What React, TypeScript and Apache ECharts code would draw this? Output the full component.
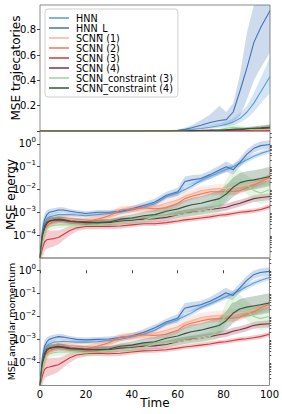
import React, { useEffect, useRef } from "react";
import * as echarts from "echarts";

// ---------------- data ----------------
const TIME = [0, 1, 2, 3, 4, 6, 8, 10, 13, 16, 20, 25, 30, 35, 40, 45, 50, 55, 60, 63, 66, 70, 74, 78, 81, 84, 87, 90, 93, 96, 100];
const NAMES = ["HNN", "HNN_L", "SCNN (1)", "SCNN (2)", "SCNN (3)", "SCNN (4)", "SCNN_constraint (3)", "SCNN_constraint (4)"];
const X_TICKS = [0, 20, 40, 60, 80, 100];
const TRAJ_TICKS = [0.2, 0.4, 0.6, 0.8];
const LOG_TICKS = [-4, -3, -2, -1, 0]; // exponents of 10

// Panel 1: MSE trajectories (linear)
const T_HNN = [0, 0, 0, 0, 0, 0, 0, 0, 0, 0, 0, 0, 0, 0, 0, 0.001, 0.001, 0.002, 0.004, 0.007, 0.012, 0.02, 0.03, 0.042, 0.052, 0.07, 0.1, 0.15, 0.22, 0.31, 0.43];
const T_HNN_LO = [0, 0, 0, 0, 0, 0, 0, 0, 0, 0, 0, 0, 0, 0, 0, 0, 0, 0.001, 0.002, 0.004, 0.007, 0.012, 0.018, 0.026, 0.033, 0.045, 0.065, 0.1, 0.15, 0.22, 0.3];
const T_HNN_HI = [0, 0, 0, 0, 0, 0, 0, 0, 0, 0, 0, 0, 0, 0, 0.001, 0.002, 0.003, 0.004, 0.007, 0.012, 0.02, 0.03, 0.045, 0.06, 0.075, 0.1, 0.14, 0.2, 0.3, 0.42, 0.58];
const T_HNN_L = [0, 0, 0, 0, 0, 0, 0, 0, 0, 0, 0, 0, 0, 0, 0, 0.001, 0.002, 0.003, 0.006, 0.013, 0.025, 0.045, 0.067, 0.083, 0.09, 0.15, 0.32, 0.5, 0.7, 0.82, 0.95];
const T_HNN_L_LO = [0, 0, 0, 0, 0, 0, 0, 0, 0, 0, 0, 0, 0, 0, 0, 0, 0.001, 0.001, 0.002, 0.005, 0.012, 0.025, 0.04, 0.05, 0.055, 0.07, 0.12, 0.25, 0.4, 0.5, 0.62];
const T_HNN_L_HI = [0, 0, 0, 0, 0, 0, 0, 0, 0, 0, 0, 0, 0, 0, 0.001, 0.002, 0.003, 0.006, 0.012, 0.025, 0.045, 0.085, 0.13, 0.2, 0.15, 0.22, 0.45, 0.78, 1.05, 1.15, 1.2];
const T_SCNN1 = [0, 0, 0, 0, 0, 0, 0, 0, 0, 0, 0, 0, 0, 0, 0, 0, 0, 0, 0.002, 0.003, 0.004, 0.005, 0.006, 0.007, 0.008, 0.009, 0.01, 0.012, 0.014, 0.016, 0.02];
const T_SCNN2 = [0, 0, 0, 0, 0, 0, 0, 0, 0, 0, 0, 0, 0, 0, 0, 0, 0, 0, 0.002, 0.003, 0.004, 0.005, 0.006, 0.007, 0.008, 0.01, 0.011, 0.013, 0.015, 0.018, 0.022];
const T_SCNN3 = [0, 0, 0, 0, 0, 0, 0, 0, 0, 0, 0, 0, 0, 0, 0, 0, 0, 0, 0.001, 0.001, 0.001, 0.001, 0.002, 0.002, 0.002, 0.002, 0.002, 0.003, 0.003, 0.003, 0.004];
const T_SCNN4 = [0, 0, 0, 0, 0, 0, 0, 0, 0, 0, 0, 0, 0, 0, 0, 0, 0, 0, 0.002, 0.002, 0.003, 0.004, 0.005, 0.006, 0.007, 0.009, 0.011, 0.014, 0.017, 0.02, 0.025];
const T_CON3 = [0, 0, 0, 0, 0, 0, 0, 0, 0, 0, 0, 0, 0, 0, 0, 0, 0, 0, 0.001, 0.001, 0.002, 0.003, 0.004, 0.01, 0.022, 0.03, 0.025, 0.015, 0.01, 0.01, 0.012];
const T_CON4 = [0, 0, 0, 0, 0, 0, 0, 0, 0, 0, 0, 0, 0, 0, 0, 0, 0, 0, 0.002, 0.002, 0.003, 0.004, 0.005, 0.007, 0.009, 0.013, 0.016, 0.019, 0.022, 0.025, 0.03];
const T_SCNN4_SPREAD = [0, 0, 0, 0, 0, 0, 0, 0, 0, 0, 0, 0, 0, 0, 0, 0, 0, 0, 0.002, 0.002, 0.003, 0.004, 0.005, 0.006, 0.007, 0.008, 0.01, 0.012, 0.015, 0.018, 0.025];
const T_CON3_SPREAD = [0, 0, 0, 0, 0, 0, 0, 0, 0, 0, 0, 0, 0, 0, 0, 0, 0, 0, 0.001, 0.001, 0.002, 0.003, 0.004, 0.008, 0.02, 0.025, 0.02, 0.012, 0.008, 0.008, 0.01];
const T_CON4_SPREAD = [0, 0, 0, 0, 0, 0, 0, 0, 0, 0, 0, 0, 0, 0, 0, 0, 0, 0, 0.002, 0.002, 0.002, 0.003, 0.004, 0.005, 0.006, 0.008, 0.01, 0.012, 0.015, 0.018, 0.022];

// Panel 2: MSE energy (log10 of value)
const E_HNN = [-5, -4.0, -3.5, -3.3, -3.2, -3.15, -3.1, -3.1, -3.1, -3.12, -3.15, -3.1, -3.05, -3.0, -2.9, -2.78, -2.62, -2.32, -2.15, -2.0, -1.85, -1.6, -1.42, -1.25, -1.12, -1.0, -0.85, -0.7, -0.55, -0.42, -0.29];
const E_HNN_L = [-5, -3.8, -3.3, -3.1, -3.0, -2.95, -2.9, -2.9, -2.95, -3.0, -3.05, -3.0, -3.0, -2.95, -2.85, -2.7, -2.55, -2.25, -2.1, -1.65, -1.58, -1.52, -1.35, -1.15, -1.0, -1.14, -0.8, -0.45, -0.2, -0.08, -0.03];
const E_SCNN1 = [-5, -4.2, -3.8, -3.55, -3.45, -3.35, -3.3, -3.3, -3.3, -3.35, -3.35, -3.3, -3.2, -3.05, -2.95, -2.85, -2.75, -2.6, -2.45, -2.3, -2.2, -2.05, -2.0, -1.95, -1.95, -1.9, -1.85, -1.8, -1.72, -1.65, -1.55];
const E_SCNN2 = [-5, -4.3, -3.9, -3.62, -3.5, -3.4, -3.33, -3.3, -3.35, -3.4, -3.4, -3.3, -3.15, -2.9, -2.85, -2.8, -2.85, -2.8, -2.6, -2.4, -2.3, -2.2, -2.1, -2.1, -2.08, -2.1, -2.05, -1.92, -1.8, -1.65, -1.46];
const E_SCNN3 = [-5, -4.6, -4.3, -4.2, -4.18, -4.15, -4.1, -3.98, -3.8, -3.68, -3.62, -3.62, -3.62, -3.6, -3.55, -3.5, -3.5, -3.45, -3.38, -3.33, -3.3, -3.25, -3.2, -3.13, -3.1, -3.05, -3.0, -2.97, -2.93, -2.88, -2.75];
const E_SCNN4 = [-5, -4.1, -3.7, -3.5, -3.4, -3.35, -3.33, -3.35, -3.4, -3.42, -3.45, -3.45, -3.45, -3.38, -3.35, -3.3, -3.28, -3.22, -3.1, -3.05, -3.0, -2.95, -2.88, -2.82, -2.78, -2.68, -2.6, -2.5, -2.4, -2.35, -2.31];
const E_CON3 = [-5, -4.3, -3.9, -3.7, -3.62, -3.58, -3.55, -3.55, -3.55, -3.55, -3.58, -3.55, -3.5, -3.45, -3.4, -3.35, -3.2, -3.15, -3.1, -3.05, -3.02, -2.95, -2.9, -2.65, -2.0, -1.55, -1.55, -1.8, -2.05, -2.15, -2.0];
const E_CON4 = [-5, -4.0, -3.6, -3.42, -3.38, -3.33, -3.3, -3.32, -3.38, -3.4, -3.42, -3.45, -3.42, -3.3, -3.25, -3.15, -3.1, -2.95, -2.85, -2.75, -2.67, -2.6, -2.5, -2.4, -2.2, -1.9, -1.7, -1.62, -1.58, -1.52, -1.43];

// Panel 3: MSE angular momentum (log10 of value)
const L_HNN = [-5, -4.0, -3.5, -3.3, -3.2, -3.12, -3.1, -3.08, -3.1, -3.12, -3.12, -3.1, -3.05, -3.0, -2.9, -2.78, -2.6, -2.32, -2.15, -2.0, -1.85, -1.62, -1.45, -1.28, -1.15, -1.02, -0.88, -0.72, -0.57, -0.45, -0.32];
const L_HNN_L = [-5, -3.8, -3.3, -3.1, -3.0, -2.93, -2.88, -2.9, -2.95, -3.0, -3.02, -3.0, -2.98, -2.92, -2.85, -2.7, -2.5, -2.25, -2.08, -1.65, -1.58, -1.5, -1.35, -1.15, -0.98, -1.1, -0.78, -0.45, -0.2, -0.1, -0.05];
const L_SCNN1 = [-5, -4.2, -3.8, -3.55, -3.45, -3.35, -3.3, -3.3, -3.3, -3.33, -3.35, -3.3, -3.2, -3.05, -2.95, -2.85, -2.75, -2.6, -2.45, -2.3, -2.2, -2.05, -2.0, -1.95, -1.93, -1.9, -1.85, -1.8, -1.72, -1.65, -1.55];
const L_SCNN2 = [-5, -4.3, -3.9, -3.62, -3.5, -3.4, -3.33, -3.3, -3.33, -3.38, -3.4, -3.3, -3.15, -2.9, -2.85, -2.8, -2.83, -2.78, -2.6, -2.4, -2.3, -2.2, -2.12, -2.1, -2.08, -2.08, -2.03, -1.92, -1.8, -1.65, -1.48];
const L_SCNN3 = [-5, -4.6, -4.3, -4.22, -4.2, -4.15, -4.1, -3.98, -3.8, -3.68, -3.62, -3.6, -3.62, -3.6, -3.55, -3.5, -3.48, -3.45, -3.38, -3.33, -3.3, -3.25, -3.2, -3.13, -3.1, -3.05, -3.0, -2.97, -2.93, -2.88, -2.78];
const L_SCNN4 = [-5, -4.1, -3.7, -3.5, -3.4, -3.35, -3.33, -3.35, -3.4, -3.42, -3.45, -3.45, -3.45, -3.38, -3.35, -3.3, -3.28, -3.22, -3.1, -3.05, -3.0, -2.95, -2.88, -2.8, -2.75, -2.65, -2.58, -2.5, -2.4, -2.35, -2.32];
const L_CON3 = [-5, -4.3, -3.9, -3.7, -3.62, -3.58, -3.55, -3.55, -3.55, -3.55, -3.58, -3.55, -3.5, -3.45, -3.4, -3.35, -3.2, -3.15, -3.1, -3.05, -3.02, -2.95, -2.88, -2.6, -1.85, -1.42, -1.45, -1.75, -2.0, -2.1, -2.0];
const L_CON4 = [-5, -4.0, -3.6, -3.42, -3.38, -3.33, -3.3, -3.32, -3.38, -3.4, -3.42, -3.45, -3.42, -3.3, -3.25, -3.15, -3.1, -2.95, -2.85, -2.75, -2.67, -2.6, -2.5, -2.4, -2.2, -1.88, -1.68, -1.6, -1.55, -1.5, -1.42];

// half-width of the shaded bands (decades), panels 2 and 3
const SP_HNN = [0, 0.3, 0.2, 0.15, 0.12, 0.1, 0.1, 0.08, 0.08, 0.08, 0.08, 0.08, 0.08, 0.08, 0.1, 0.1, 0.1, 0.1, 0.12, 0.12, 0.12, 0.12, 0.12, 0.12, 0.12, 0.12, 0.12, 0.12, 0.12, 0.12, 0.12];
const SP_HNN_L = [0, 0.35, 0.25, 0.2, 0.15, 0.13, 0.12, 0.12, 0.1, 0.1, 0.1, 0.1, 0.1, 0.1, 0.12, 0.14, 0.15, 0.15, 0.18, 0.22, 0.2, 0.18, 0.18, 0.2, 0.22, 0.2, 0.2, 0.2, 0.18, 0.18, 0.18];
const SP_SCNN1 = [0, 0.35, 0.3, 0.25, 0.22, 0.2, 0.2, 0.2, 0.2, 0.2, 0.2, 0.2, 0.2, 0.2, 0.18, 0.18, 0.18, 0.18, 0.2, 0.2, 0.2, 0.2, 0.2, 0.2, 0.2, 0.2, 0.2, 0.2, 0.2, 0.2, 0.2];
const SP_SCNN2 = [0, 0.3, 0.25, 0.2, 0.18, 0.15, 0.15, 0.15, 0.15, 0.15, 0.15, 0.15, 0.15, 0.15, 0.15, 0.15, 0.15, 0.15, 0.15, 0.15, 0.15, 0.15, 0.15, 0.15, 0.15, 0.15, 0.15, 0.15, 0.15, 0.15, 0.15];
const SP_SCNN3 = [0, 0.4, 0.4, 0.4, 0.38, 0.35, 0.3, 0.25, 0.2, 0.15, 0.12, 0.12, 0.12, 0.12, 0.1, 0.1, 0.1, 0.1, 0.1, 0.1, 0.1, 0.1, 0.1, 0.1, 0.1, 0.1, 0.1, 0.1, 0.1, 0.1, 0.1];
const SP_SCNN4 = [0, 0.3, 0.25, 0.2, 0.18, 0.15, 0.15, 0.15, 0.15, 0.15, 0.15, 0.15, 0.15, 0.15, 0.15, 0.15, 0.15, 0.15, 0.15, 0.15, 0.15, 0.15, 0.15, 0.15, 0.15, 0.15, 0.15, 0.15, 0.15, 0.15, 0.15];
const SP_CON3 = [0, 0.3, 0.25, 0.2, 0.18, 0.15, 0.15, 0.15, 0.15, 0.15, 0.15, 0.15, 0.15, 0.15, 0.15, 0.15, 0.15, 0.15, 0.18, 0.18, 0.2, 0.2, 0.25, 0.35, 0.45, 0.45, 0.4, 0.4, 0.45, 0.5, 0.5];
const SP_CON4 = [0, 0.3, 0.25, 0.2, 0.15, 0.12, 0.12, 0.12, 0.12, 0.12, 0.12, 0.12, 0.12, 0.12, 0.15, 0.18, 0.2, 0.22, 0.25, 0.28, 0.3, 0.3, 0.32, 0.35, 0.4, 0.42, 0.42, 0.42, 0.42, 0.42, 0.42];

// ---------------- styling ----------------
const FONT = "DejaVu Sans";
const COLORS = ["#5a9bd4", "#3f74bb", "#f9b49b", "#f27657", "#d13a40", "#8a2c42", "#9bd697", "#2c5a3a"];
const SPINE = "#8a8a8a";
const Y_RANGES = [
  [0, 0.995],
  [-5, 0.56],
  [-5, 0.53],
];

const pairs = (ys: number[]) => TIME.map((t, i) => [t, ys[i]]);

function bandSeries(gi: number, lo: number[], hi: number[], color: string, opacity = 0.26) {
  const [yMin, yMax] = Y_RANGES[gi];
  const clamp = (v: number) => Math.max(yMin, Math.min(yMax, v));
  const data = TIME.map((t, i) => [t, clamp(lo[i]), clamp(hi[i])]);
  return {
    type: "custom",
    xAxisIndex: gi,
    yAxisIndex: gi,
    data,
    encode: { x: 0, y: [1, 2] },
    silent: true,
    clip: true,
    z: 1,
    renderItem: (params: any, api: any) => {
      if (params.dataIndex !== 0) return null;
      const upper = data.map((d) => api.coord([d[0], d[2]]));
      const lower = data.map((d) => api.coord([d[0], d[1]])).reverse();
      return {
        type: "polygon",
        shape: { points: upper.concat(lower) },
        style: { fill: color, opacity },
      };
    },
  };
}

function lineSeries(gi: number, ys: number[], idx: number) {
  return {
    type: "line",
    name: NAMES[idx],
    xAxisIndex: gi,
    yAxisIndex: gi,
    data: pairs(ys),
    symbol: "none",
    showSymbol: false,
    color: COLORS[idx],
    itemStyle: { color: COLORS[idx] },
    lineStyle: { color: COLORS[idx], width: 1.1 },
    z: 3,
    emphasis: { disabled: true },
  };
}

function buildOption() {
  const series: any[] = [];

  // ---- panel 1 bands ----
  series.push(bandSeries(0, T_HNN_LO, T_HNN_HI, COLORS[0]));
  series.push(bandSeries(0, T_HNN_L_LO, T_HNN_L_HI, COLORS[1]));
  series.push(bandSeries(0, T_SCNN4.map((v, i) => v - T_SCNN4_SPREAD[i]), T_SCNN4.map((v, i) => v + T_SCNN4_SPREAD[i]), COLORS[5]));
  series.push(bandSeries(0, T_CON3.map((v, i) => v - T_CON3_SPREAD[i]), T_CON3.map((v, i) => v + T_CON3_SPREAD[i]), COLORS[6]));
  series.push(bandSeries(0, T_CON4.map((v, i) => v - T_CON4_SPREAD[i]), T_CON4.map((v, i) => v + T_CON4_SPREAD[i]), COLORS[7]));
  const tLines = [T_HNN, T_HNN_L, T_SCNN1, T_SCNN2, T_SCNN3, T_SCNN4, T_CON3, T_CON4];

  // ---- panels 2,3 bands ----
  const spreads = [SP_HNN, SP_HNN_L, SP_SCNN1, SP_SCNN2, SP_SCNN3, SP_SCNN4, SP_CON3, SP_CON4];
  const eLines = [E_HNN, E_HNN_L, E_SCNN1, E_SCNN2, E_SCNN3, E_SCNN4, E_CON3, E_CON4];
  const lLines = [L_HNN, L_HNN_L, L_SCNN1, L_SCNN2, L_SCNN3, L_SCNN4, L_CON3, L_CON4];
  [eLines, lLines].forEach((set, p) => {
    const gi = p + 1;
    set.forEach((m, k) => {
      const sp = spreads[k];
      series.push(bandSeries(gi, m.map((v, i) => v - sp[i]), m.map((v, i) => v + sp[i]), COLORS[k]));
    });
  });

  tLines.forEach((m, k) => series.push(lineSeries(0, m, k)));
  eLines.forEach((m, k) => series.push(lineSeries(1, m, k)));
  lLines.forEach((m, k) => series.push(lineSeries(2, m, k)));

  const grids = [
    { left: 40, top: 5, width: 230, height: 126 },
    { left: 40, top: 131, width: 230, height: 127 },
    { left: 40, top: 258, width: 230, height: 127.5 },
  ].map((g) => ({ ...g, show: true, borderColor: SPINE, borderWidth: 1, backgroundColor: "transparent", containLabel: false }));

  const xAxes = [0, 1, 2].map((gi) => ({
    type: "value",
    gridIndex: gi,
    min: 0,
    max: 100,
    interval: 20,
    axisLine: { show: false },
    splitLine: { show: false },
    axisTick: { show: gi === 2, length: 3, lineStyle: { color: "#444" }, customValues: X_TICKS },
    axisLabel: { show: gi === 2, fontSize: 10, fontFamily: FONT, color: "#000", margin: 4, customValues: X_TICKS },
  }));

  const logLabel = {
    fontFamily: FONT,
    color: "#000",
    margin: 4,
    customValues: LOG_TICKS,
    formatter: (v: number) => {
      const e = Math.round(v);
      return `{b|10}{s|${e === 0 ? "0" : "\u2212" + -e}}`;
    },
    rich: {
      b: { fontSize: 10, fontFamily: FONT, color: "#000" },
      s: { fontSize: 7, fontFamily: FONT, color: "#000", padding: [0, 0, 7, 0] },
    },
  };

  const minor: number[] = [];
  for (let n = -5; n <= 0; n++) for (let k = 2; k <= 9; k++) minor.push(n + Math.log10(k));

  const mainY = (gi: number) => ({
    type: "value",
    gridIndex: gi,
    min: Y_RANGES[gi][0],
    max: Y_RANGES[gi][1],
    axisLine: { show: false },
    splitLine: { show: false },
  });

  const yAxes: any[] = [
    {
      ...mainY(0),
      axisTick: { show: true, length: 3, lineStyle: { color: "#444" }, customValues: [0, ...TRAJ_TICKS] },
      axisLabel: { fontSize: 10, fontFamily: FONT, color: "#000", margin: 4, customValues: TRAJ_TICKS, formatter: (v: number) => v.toFixed(1) },
    },
    { ...mainY(1), axisTick: { show: true, length: 3, lineStyle: { color: "#444" }, customValues: LOG_TICKS }, axisLabel: logLabel },
    { ...mainY(2), axisTick: { show: true, length: 3, lineStyle: { color: "#444" }, customValues: LOG_TICKS }, axisLabel: logLabel },
    {
      ...mainY(1),
      axisTick: { show: true, length: 1.8, lineStyle: { color: "#555" }, customValues: minor.filter((v) => v < Y_RANGES[1][1]) },
      axisLabel: { show: false },
    },
    {
      ...mainY(2),
      axisTick: { show: true, length: 1.8, lineStyle: { color: "#555" }, customValues: minor.filter((v) => v < Y_RANGES[2][1]) },
      axisLabel: { show: false },
    },
  ];

  const title = (text: string, x: number, y: number, size: number, rot = 0) => ({
    type: "text",
    x,
    y,
    rotation: rot,
    z: 10,
    style: { text, fontSize: size, fontFamily: FONT, fill: "#000", align: "center", verticalAlign: "middle" },
  });

  return {
    animation: false,
    grid: grids,
    xAxis: xAxes,
    yAxis: yAxes,
    series,
    legend: {
      data: NAMES,
      orient: "vertical",
      left: 45,
      top: 9,
      icon: "rect",
      itemWidth: 20,
      itemHeight: 1.5,
      itemGap: 0,
      padding: [4, 5, 4, 4],
      backgroundColor: "rgba(255,255,255,0.85)",
      borderColor: "#d0d0d0",
      borderWidth: 1,
      borderRadius: 3,
      selectedMode: false,
      textStyle: { fontSize: 9.6, fontFamily: FONT, color: "#000", lineHeight: 9.75, padding: [0, 0, 0, 2] },
      z: 20,
    },
    graphic: [
      title("MSE trajecatories", 15.5, 68, 12, Math.PI / 2),
      title("MSE energy", 11, 194.5, 12, Math.PI / 2),
      title("MSE angular momentum", 11, 321.5, 9.5, Math.PI / 2),
      title("Time", 155, 403, 12),
    ],
  };
}

export default function App() {
  const ref = useRef<HTMLDivElement>(null);
  useEffect(() => {
    if (!ref.current) return;
    const chart = echarts.init(ref.current, null, { renderer: "svg" });
    chart.setOption(buildOption() as any);
    return () => chart.dispose();
  }, []);
  return <div ref={ref} style={{ position: "fixed", left: 0, top: 0, width: 282, height: 414, background: "#fff" }} />;
}
